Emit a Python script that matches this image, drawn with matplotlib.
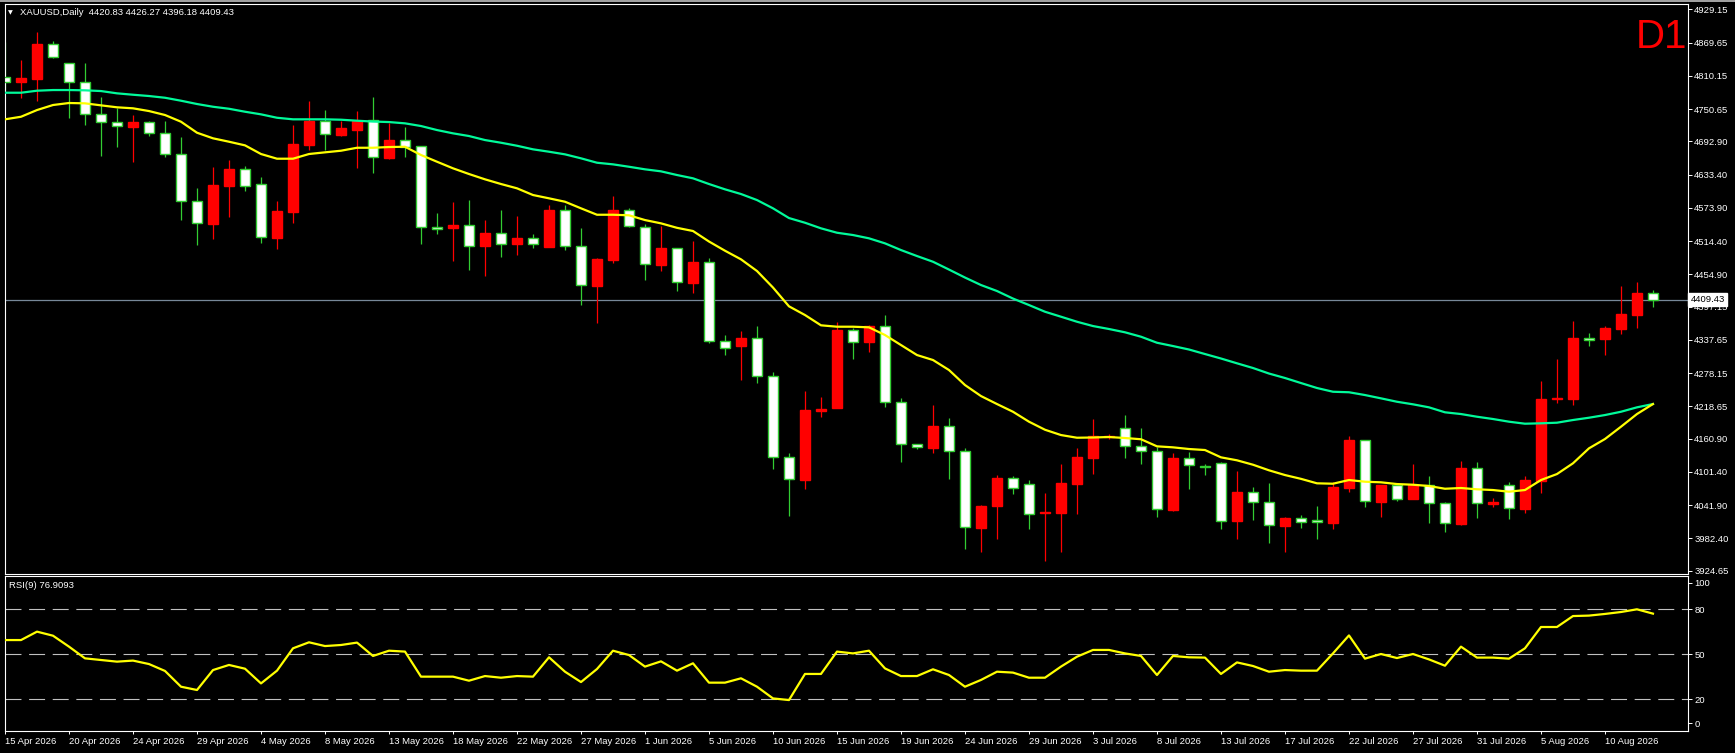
import numpy as np
import matplotlib
matplotlib.use("Agg")
import matplotlib.pyplot as plt
from matplotlib.patches import Rectangle

plt.rcParams['font.family'] = ['Liberation Sans', 'DejaVu Sans']
plt.rcParams['lines.scale_dashes'] = False

# XAUUSD daily bars, 15 Apr 2026 .. 13 Aug 2026
opens = [4807.5, 4799.6, 4804.4, 4867.1, 4833.1, 4798.5, 4741.2, 4726.9, 4718.5, 4726.9,
         4707.2, 4669.6, 4585.5, 4545.4, 4613.4, 4642.8, 4616.0, 4520.4, 4566.9, 4686.3,
         4729.2, 4704.7, 4713.1, 4730.5, 4663.5, 4694.7, 4684.0, 4539.5, 4538.3, 4542.6,
         4506.0, 4528.2, 4509.6, 4519.3, 4504.3, 4569.4, 4505.0, 4434.5, 4481.0, 4569.4,
         4539.5, 4472.0, 4501.4, 4439.8, 4476.3, 4334.9, 4327.1, 4340.3, 4272.3, 4127.3,
         4087.2, 4210.2, 4216.1, 4354.6, 4334.2, 4361.8, 4225.8, 4150.6, 4144.5, 4182.8,
         4138.1, 4001.3, 4040.7, 4089.7, 4079.0, 4027.1, 4028.2, 4080.1, 4126.6, 4163.7,
         4179.2, 4147.0, 4138.1, 4033.5, 4125.5, 4112.6, 4116.6, 4013.9, 4064.7, 4046.8,
         4004.9, 4018.1, 4014.6, 4010.3, 4072.9, 4157.8, 4047.9, 4077.7, 4053.2, 4077.7,
         4045.0, 4008.5, 4107.6, 4044.6, 4077.2, 4035.3, 4085.4, 4231.1, 4231.7, 4340.3,
         4339.6, 4357.0, 4382.0, 4420.83]
highs = [4871.2, 4838.4, 4888.6, 4872.4, 4833.1, 4833.6, 4772.2, 4753.0, 4740.0, 4729.2,
         4729.2, 4701.1, 4609.3, 4647.5, 4659.5, 4648.7, 4629.0, 4586.0, 4722.1, 4765.0,
         4748.9, 4729.8, 4747.1, 4772.2, 4725.1, 4718.0, 4684.0, 4564.0, 4584.3, 4587.8,
         4552.0, 4569.9, 4559.2, 4527.0, 4578.4, 4578.4, 4537.7, 4484.0, 4595.0, 4574.1,
         4544.9, 4541.8, 4501.4, 4514.5, 4483.5, 4345.7, 4353.4, 4362.3, 4279.5, 4135.0,
         4246.0, 4235.2, 4369.5, 4359.3, 4363.6, 4382.0, 4233.5, 4150.6, 4220.9, 4197.7,
         4143.4, 4041.9, 4095.1, 4093.8, 4086.7, 4063.4, 4115.3, 4144.0, 4195.9, 4169.0,
         4203.0, 4179.2, 4146.3, 4135.0, 4136.8, 4115.3, 4118.9, 4102.8, 4074.2, 4081.3,
         4021.0, 4024.1, 4040.2, 4082.6, 4165.4, 4157.8, 4077.7, 4077.7, 4115.3, 4093.8,
         4046.8, 4120.7, 4118.9, 4053.9, 4082.6, 4093.8, 4263.9, 4303.3, 4371.8, 4349.8,
         4362.3, 4434.5, 4441.1, 4426.27]
lows = [4784.8, 4771.0, 4765.6, 4842.6, 4735.2, 4722.1, 4667.1, 4683.2, 4656.4, 4702.9,
        4665.3, 4552.0, 4507.8, 4517.5, 4558.0, 4604.5, 4511.4, 4499.6, 4546.2, 4677.3,
        4677.3, 4702.9, 4645.7, 4636.7, 4661.8, 4665.3, 4509.1, 4527.0, 4478.7, 4462.6,
        4451.8, 4486.4, 4489.4, 4502.5, 4504.3, 4498.3, 4400.4, 4367.7, 4475.6, 4540.1,
        4444.7, 4461.3, 4425.5, 4421.9, 4332.4, 4311.0, 4265.7, 4260.8, 4105.8, 4022.8,
        4071.1, 4200.0, 4215.6, 4303.8, 4316.3, 4217.9, 4119.4, 4142.2, 4135.6, 4089.0,
        3963.2, 3958.4, 3981.6, 4062.2, 3999.5, 3942.3, 3958.4, 4026.4, 4098.0, 4160.1,
        4126.6, 4115.9, 4021.0, 4031.7, 4071.1, 4096.2, 3999.5, 3981.6, 4015.6, 3973.4,
        3958.4, 4001.3, 3981.6, 3998.5, 4065.7, 4038.4, 4021.0, 4048.6, 4052.7, 4010.3,
        3994.2, 4006.7, 4019.2, 4038.9, 4017.4, 4028.2, 4064.0, 4224.0, 4220.9, 4327.1,
        4310.4, 4348.5, 4358.7, 4396.18]
closes = [4799.6, 4806.2, 4867.6, 4844.3, 4798.5, 4741.2, 4726.9, 4719.7, 4727.4, 4707.2,
          4669.6, 4585.5, 4546.2, 4614.7, 4643.3, 4612.4, 4521.1, 4568.2, 4688.1, 4729.2,
          4705.4, 4716.7, 4729.2, 4664.3, 4695.2, 4683.2, 4539.0, 4536.5, 4543.1, 4506.0,
          4528.8, 4509.6, 4519.8, 4508.6, 4569.9, 4505.0, 4435.2, 4482.2, 4569.9, 4541.8,
          4472.8, 4501.9, 4440.5, 4476.9, 4334.9, 4322.4, 4340.8, 4272.3, 4127.3, 4088.0,
          4212.0, 4213.8, 4355.2, 4334.2, 4362.3, 4225.8, 4150.6, 4146.7, 4183.3, 4138.1,
          4002.0, 4040.2, 4090.3, 4071.8, 4025.3, 4029.4, 4081.3, 4127.9, 4165.4, 4166.3,
          4147.0, 4138.1, 4034.3, 4126.1, 4113.0, 4110.0, 4013.9, 4064.7, 4046.8, 4005.6,
          4018.7, 4011.0, 4011.0, 4074.2, 4158.3, 4048.6, 4077.7, 4052.2, 4077.7, 4045.0,
          4009.2, 4108.2, 4045.0, 4047.7, 4036.0, 4086.7, 4231.7, 4233.5, 4340.8, 4336.7,
          4358.7, 4383.8, 4421.4, 4409.43]

# fast (yellow) and slow (green) moving averages as drawn on the chart
ma_fast = [4732.3, 4736.9, 4748.9, 4757.9, 4761.5, 4760.9, 4757.3, 4753.8, 4752.0, 4747.1,
           4740.0, 4728.0, 4708.3, 4698.3, 4692.2, 4685.7, 4670.2, 4661.8, 4661.8, 4670.2,
           4673.2, 4676.1, 4681.4, 4681.4, 4682.7, 4683.2, 4668.4, 4656.4, 4644.6, 4634.4,
           4624.9, 4616.5, 4608.8, 4596.8, 4590.9, 4584.8, 4573.0, 4561.5, 4561.5, 4560.5,
           4552.0, 4546.1, 4538.1, 4532.4, 4513.6, 4497.1, 4481.7, 4460.8, 4431.2, 4397.6,
           4382.0, 4363.6, 4361.1, 4361.1, 4360.0, 4346.2, 4328.3, 4310.4, 4301.5, 4283.6,
           4256.7, 4237.0, 4222.7, 4208.9, 4191.1, 4176.7, 4167.2, 4162.4, 4162.8, 4163.7,
           4161.9, 4159.7, 4147.0, 4145.2, 4142.2, 4140.4, 4127.3, 4122.0, 4114.1, 4104.1,
           4095.6, 4088.8, 4080.8, 4080.1, 4086.7, 4083.7, 4082.6, 4079.5, 4078.3, 4076.0,
           4071.1, 4072.4, 4070.1, 4068.8, 4065.8, 4068.8, 4086.7, 4097.4, 4116.6, 4143.4,
           4160.1, 4182.1, 4204.8, 4222.7]
ma_slow = [4779.9, 4779.9, 4783.5, 4784.7, 4784.7, 4784.2, 4782.9, 4778.8, 4776.3, 4774.0,
           4770.9, 4765.6, 4759.7, 4754.8, 4751.2, 4745.9, 4741.2, 4735.1, 4732.3, 4732.3,
           4732.3, 4731.6, 4729.8, 4728.3, 4727.4, 4725.1, 4720.3, 4713.1, 4707.2, 4702.4,
           4695.2, 4690.4, 4685.0, 4678.6, 4674.3, 4669.6, 4662.5, 4654.6, 4651.7, 4647.4,
           4642.8, 4639.2, 4632.6, 4626.7, 4616.5, 4607.0, 4598.6, 4587.8, 4573.0, 4555.6,
           4547.2, 4537.2, 4529.3, 4525.2, 4519.3, 4510.3, 4498.3, 4487.6, 4477.4, 4463.4,
           4449.1, 4435.7, 4425.0, 4411.5, 4399.9, 4387.9, 4379.0, 4370.0, 4362.3, 4357.0,
           4351.1, 4343.2, 4332.4, 4326.5, 4320.3, 4312.2, 4304.2, 4295.6, 4287.2, 4277.3,
           4269.3, 4260.3, 4251.4, 4244.7, 4243.8, 4238.8, 4232.9, 4226.8, 4222.2, 4216.8,
           4207.9, 4204.8, 4200.0, 4195.9, 4191.1, 4187.5, 4188.2, 4189.3, 4194.1, 4198.2,
           4203.0, 4208.9, 4216.8, 4222.7]

rsi = [59.3, 59.3, 64.9, 62.2, 54.9, 47.1, 46.0, 44.9, 45.6, 43.3,
       38.7, 28.2, 26.0, 39.3, 42.7, 40.2, 30.4, 38.9, 53.8, 57.8,
       55.3, 56.0, 57.6, 48.7, 52.2, 51.6, 34.9, 34.9, 34.9, 32.2,
       35.3, 34.2, 35.3, 34.9, 47.8, 38.2, 31.3, 40.0, 52.2, 49.3,
       41.6, 45.1, 38.9, 43.8, 30.9, 30.9, 33.8, 28.2, 20.4, 19.3,
       36.7, 36.7, 51.6, 50.4, 52.2, 40.4, 35.3, 35.3, 39.8, 36.0,
       28.2, 32.7, 38.2, 37.6, 34.2, 34.2, 41.6, 48.2, 52.7, 52.7,
       50.4, 48.7, 36.0, 48.7, 47.8, 47.6, 36.7, 44.4, 42.0, 38.2,
       39.3, 38.9, 38.9, 50.4, 62.4, 46.9, 50.0, 47.3, 50.0, 46.4,
       42.2, 54.9, 47.6, 47.6, 46.9, 53.8, 68.0, 68.0, 75.3, 75.6,
       76.7, 78.0, 79.8, 76.91]

date_labels = ['15 Apr 2026', '20 Apr 2026', '24 Apr 2026', '29 Apr 2026', '4 May 2026',
               '8 May 2026', '13 May 2026', '18 May 2026', '22 May 2026', '27 May 2026',
               '1 Jun 2026', '5 Jun 2026', '10 Jun 2026', '15 Jun 2026', '19 Jun 2026',
               '24 Jun 2026', '29 Jun 2026', '3 Jul 2026', '8 Jul 2026', '13 Jul 2026',
               '17 Jul 2026', '22 Jul 2026', '27 Jul 2026', '31 Jul 2026', '5 Aug 2026',
               '10 Aug 2026']
price_ticks = [4929.15, 4869.65, 4810.15, 4750.65, 4692.90, 4633.40, 4573.90, 4514.40, 4454.90,
               4397.15, 4337.65, 4278.15, 4218.65, 4160.90, 4101.40, 4041.90, 3982.40, 3924.65]
rsi_levels = [20, 50, 80]
last_price = 4409.43

W, H = 1735, 753


def fx(px):
    return px / W


def fy(py):
    return 1 - py / H


fig = plt.figure(figsize=(W / 100, H / 100), dpi=100, facecolor='black')
ax = fig.add_axes([fx(4.7), fy(574), fx(1688) - fx(4.7), fy(4) - fy(574)], facecolor='black')
ax_rsi = fig.add_axes([fx(4.7), fy(731), fx(1688) - fx(4.7), fy(576) - fy(731)],
                      facecolor='black', sharex=ax)

# thin grey strip at the top of the window
fig.add_artist(Rectangle((0, fy(1.5)), 1, 1.5 / H, transform=fig.transFigure,
                         facecolor='#a0a0a0', edgecolor='none'))

o = np.array(opens)
h = np.array(highs)
l = np.array(lows)
c = np.array(closes)
x = np.arange(len(o))
up = c > o  # red bars are the rising ones on this chart

wick_col = np.where(up, '#ff0000', '#32cd32')
ax.vlines(x, l, h, colors=wick_col, linewidth=0.9, zorder=2)

body_bottom = np.minimum(o, c)
body_h = np.maximum(np.abs(c - o), 1.8)
face = np.where(up, '#ff0000', '#ffffff')
edge = np.where(up, '#ff0000', '#32cd32')
ax.bar(x, body_h, bottom=body_bottom, width=0.64, color=face, edgecolor=edge,
       linewidth=1.0, zorder=3)

ax.plot(x, ma_slow, color='#00fa9a', linewidth=1.6, zorder=4)
ax.plot(x, ma_fast, color='#ffff00', linewidth=1.6, zorder=5)
ax.axhline(last_price, color='#778899', linewidth=0.9, zorder=1)

ax.set_xlim(-0.019, 105.19)
ax.set_ylim(3918.5, 4938.7)
ax.yaxis.tick_right()
ax.set_yticks(price_ticks)
ax.set_yticklabels(['%.2f' % v for v in price_ticks])
ax.tick_params(axis='y', colors='white', labelsize=6.8, length=3, width=0.7, pad=1.5)
ax.tick_params(axis='x', bottom=False, labelbottom=False)
for s in ax.spines.values():
    s.set_color('white')
    s.set_linewidth(0.8)

# last price box on the price scale
ax.text(1.0015, last_price, '%.2f' % last_price, transform=ax.get_yaxis_transform(),
        ha='left', va='center', fontsize=6.8, color='black', zorder=10, clip_on=False,
        bbox=dict(boxstyle='square,pad=0.22', facecolor='white', edgecolor='white'))

# RSI pane
ax_rsi.plot(x, rsi, color='#ffff00', linewidth=1.6, zorder=3)
for lv in rsi_levels:
    ax_rsi.axhline(lv, color='#c0c0c0', linewidth=0.8, dashes=(11.5, 5.5), zorder=1)
ax_rsi.set_ylim(-1.33, 102)
ax_rsi.yaxis.tick_right()
ax_rsi.set_yticks([3.9, 20, 50, 80, 97.4])
ax_rsi.set_yticklabels(['0', '20', '50', '80', '100'])
ax_rsi.tick_params(axis='y', colors='white', labelsize=6.8, length=3, width=0.7, pad=1.5)
ax_rsi.set_xticks(np.arange(0, len(date_labels) * 4, 4))
ax_rsi.set_xticklabels(date_labels, ha='left')
ax_rsi.tick_params(axis='x', colors='white', labelsize=6.8, length=2, width=0.7, pad=2.5)
for s in ax_rsi.spines.values():
    s.set_color('white')
    s.set_linewidth(0.8)

# chart captions
fig.text(fx(8), fy(13), '\u25bc', color='white', fontsize=4.5, family='DejaVu Sans',
         ha='left', va='center')
fig.text(fx(20), fy(12.5), 'XAUUSD,Daily  4420.83 4426.27 4396.18 4409.43', color='white',
         fontsize=6.8, ha='left', va='center')
fig.text(fx(1687), fy(37), 'D1', color='#ff0000', fontsize=29, ha='right', va='center')
fig.text(fx(9), fy(586), 'RSI(9) 76.9093', color='white', fontsize=6.8, ha='left', va='center')

fig.savefig('out.png', dpi=100, facecolor='black')
